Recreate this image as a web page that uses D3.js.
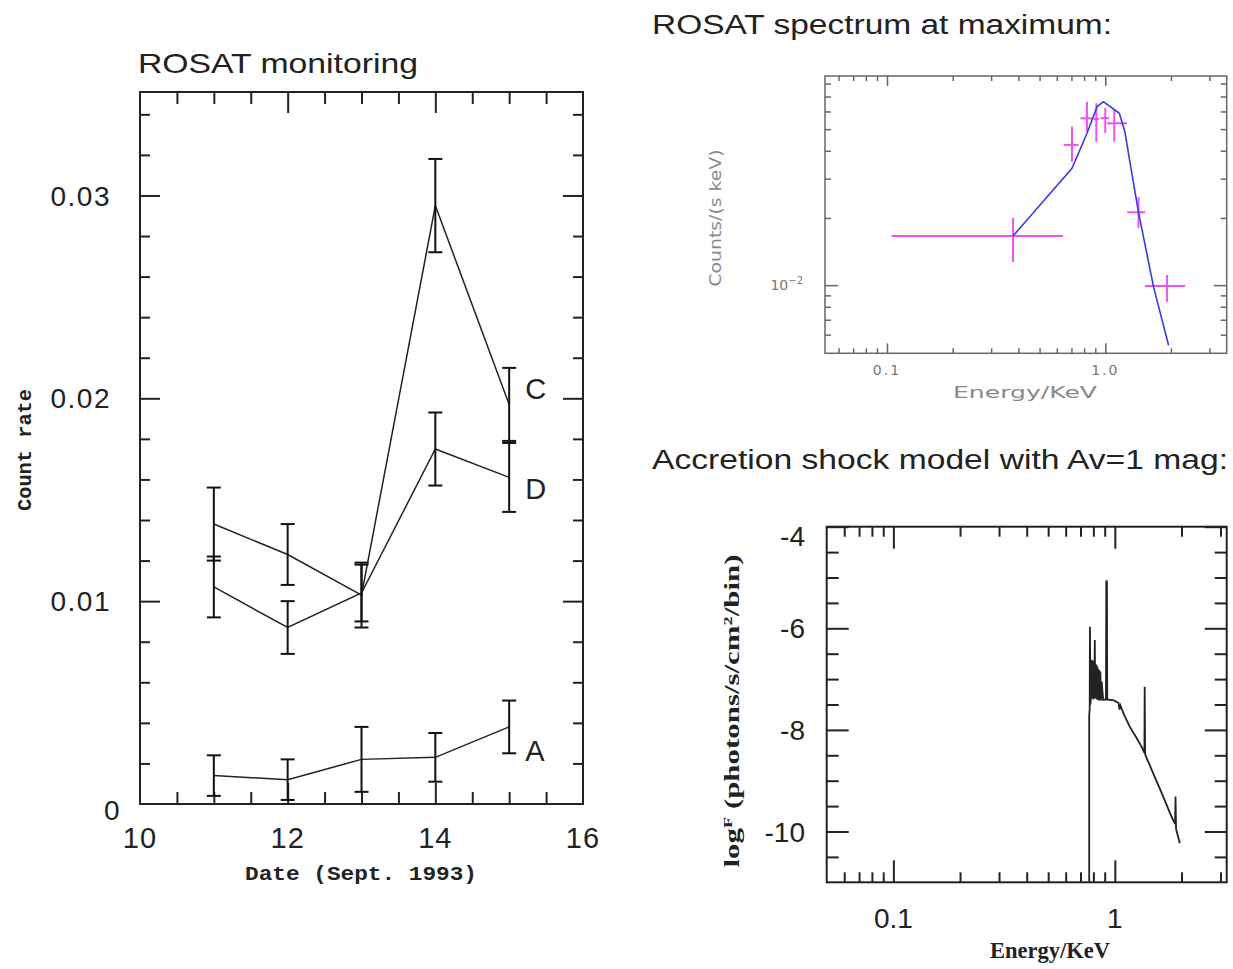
<!DOCTYPE html>
<html>
<head>
<meta charset="utf-8">
<script src="https://cdn.jsdelivr.net/npm/d3@7"></script>
<style>
  body { margin: 0; background: #fff; }
  svg { display: block; }
  .sans { font-family: "Liberation Sans", Arial, sans-serif; }
  .dv { font-family: "DejaVu Sans", sans-serif; }
  .mono { font-family: "Liberation Mono", "DejaVu Sans Mono", monospace; }
  .serif { font-family: "Liberation Serif", "DejaVu Serif", serif; }
</style>
</head>
<body>
<div id="chart"></div>
<script>
// --- ROSAT monitoring, count rate per day (Sept. 1993)
var days = [11, 12, 13, 14, 15];
var rateC = [0.0138, 0.0123, 0.0103, 0.0295, 0.0197];
var errC  = [0.0018, 0.0015, 0.0016, 0.0023, 0.0018];
var rateD = [0.0107, 0.0087, 0.0104, 0.0175, 0.0161];
var errD  = [0.0015, 0.0013, 0.0014, 0.0018, 0.0017];
var rateA = [0.0014, 0.0012, 0.0022, 0.0023, 0.0038];
var errA  = [0.0010, 0.0010, 0.0016, 0.0012, 0.0013];
var seriesNames = ["C", "D", "A"];
var rateTicks = [0, 0.01, 0.02, 0.03];
var rateTickLabels = ["0", "0.01", "0.02", "0.03"];
var dayTicks = [10, 12, 14, 16];

// --- ROSAT spectrum at maximum (counts/(s keV) vs energy)
var specE    = [0.378, 0.704, 0.824, 0.910, 1.00, 1.10, 1.42, 1.92];
var specELo  = [0.105, 0.645, 0.770, 0.885, 0.950, 1.02, 1.26, 1.52];
var specEHi  = [0.640, 0.755, 0.880, 0.935, 1.04, 1.26, 1.52, 2.32];
var specC    = [0.0166, 0.0425, 0.0559, 0.0555, 0.0560, 0.0531, 0.0212, 0.0099];
var specCLo  = [0.0127, 0.0357, 0.0487, 0.0439, 0.0480, 0.0439, 0.0180, 0.0084];
var specCHi  = [0.0200, 0.0513, 0.0664, 0.0653, 0.0621, 0.0614, 0.0248, 0.0111];
var modelE   = [0.378, 0.704, 0.824, 0.918, 0.98, 1.027, 1.16, 1.23, 1.30, 1.42, 1.665, 1.95];
var modelC   = [0.0166, 0.0334, 0.0478, 0.0631, 0.0664, 0.0642, 0.0589, 0.0487, 0.0351, 0.0212, 0.0098, 0.00538];

// --- Accretion shock model, log F vs energy
var shockE = [0.766, 0.766, 0.770, 0.772, 0.776, 0.782, 0.786, 0.789, 0.792, 0.795, 0.798, 0.801,
  0.804, 0.807, 0.810, 0.812, 0.815, 0.818, 0.822, 0.826, 0.830, 0.834, 0.838, 0.842, 0.846,
  0.850, 0.855, 0.860, 0.866, 0.872, 0.886,
  0.912, 0.915, 0.918, 0.921, 0.924, 0.990, 1.040, 1.050, 1.060, 1.100, 1.169, 1.250, 1.320,
  1.360, 1.364, 1.370, 1.489, 1.652, 1.800, 1.870, 1.880, 1.890, 1.965];
var shockLogF = [-11.0, -7.71, -7.60, -5.97, -7.50, -7.30, -6.62, -7.38, -6.70, -7.36, -6.64, -7.40,
  -6.72, -7.38, -6.80, -6.23, -7.35, -6.70, -7.38, -6.72, -7.40, -6.75, -7.40, -6.80, -7.42,
  -6.82, -7.42, -6.85, -7.42, -7.05, -7.41,
  -7.40, -5.06, -7.30, -5.06, -7.40, -7.42, -7.47, -7.60, -7.52, -7.70, -7.94, -8.15, -8.33,
  -8.45, -7.15, -8.48, -8.85, -9.31, -9.70, -9.85, -9.31, -9.95, -10.23];
var logFTicks = [-4, -6, -8, -10];
var energyMajor = [0.1, 1];
var energyMinor = [0.06, 0.07, 0.08, 0.09, 0.2, 0.3, 0.4, 0.5, 0.6, 0.7, 0.8, 0.9, 2, 3];
var countMinor = [0.006, 0.007, 0.008, 0.009, 0.02, 0.03, 0.04, 0.05, 0.06, 0.07, 0.08];

var W = 1233, H = 969;
var svg = d3.select("#chart").append("svg").attr("width", W).attr("height", H);
svg.append("rect").attr("width", W).attr("height", H).attr("fill", "#fff");

function noDomain(g) { g.select(".domain").remove(); }

// inner ticks on all four sides of a frame
function frameTicks(g, xs, ys, xv, yv, xlen, ylen, color, sw) {
  var x0 = xs.range()[0], x1 = xs.range()[1], y0 = ys.range()[0], y1 = ys.range()[1];
  g.append("g").attr("transform", "translate(0," + y0 + ")")
    .call(d3.axisBottom(xs).tickValues(xv).tickSize(-xlen).tickFormat("")).call(noDomain);
  g.append("g").attr("transform", "translate(0," + y1 + ")")
    .call(d3.axisTop(xs).tickValues(xv).tickSize(-xlen).tickFormat("")).call(noDomain);
  g.append("g").attr("transform", "translate(" + x0 + ",0)")
    .call(d3.axisLeft(ys).tickValues(yv).tickSize(-ylen).tickFormat("")).call(noDomain);
  g.append("g").attr("transform", "translate(" + x1 + ",0)")
    .call(d3.axisRight(ys).tickValues(yv).tickSize(-ylen).tickFormat("")).call(noDomain);
  g.selectAll(".tick line").attr("stroke", color).attr("stroke-width", sw);
}

function stretched(sel, len) {
  return sel.attr("textLength", len).attr("lengthAdjust", "spacingAndGlyphs");
}

// ================= left panel =================
var lx = d3.scaleLinear().domain([10, 16]).range([140, 583]);
var ly = d3.scaleLinear().domain([0, 0.0351]).range([804, 92]);
var left = svg.append("g");

var ticksL = left.append("g");
frameTicks(ticksL, lx, ly, d3.range(10.5, 16, 0.5).filter(function(d) { return d % 2 !== 0; }),
  d3.range(0.002, 0.035, 0.002).filter(function(d) { return Math.abs(d * 100 - Math.round(d * 100)) > 1e-6; }),
  12, 10, "#222", 2);
frameTicks(ticksL, lx, ly, [12, 14], [0.01, 0.02, 0.03], 21, 20, "#222", 2);

left.append("rect").attr("x", 140).attr("y", 92).attr("width", 443).attr("height", 712)
  .attr("fill", "none").attr("stroke", "#222").attr("stroke-width", 2);

var line = d3.line().x(function(d) { return lx(d[0]); }).y(function(d) { return ly(d[1]); });
var series = [[rateC, errC], [rateD, errD], [rateA, errA]];
var labelShift = { C: -16, D: 11, A: 24 };

series.forEach(function(s, i) {
  var pts = days.map(function(d, j) { return [d, s[0][j], s[1][j]]; });
  left.append("path").datum(pts).attr("d", line)
    .attr("fill", "none").attr("stroke", "#222").attr("stroke-width", 1.5);
  var eb = left.append("g").attr("stroke", "#111").attr("stroke-width", 2);
  pts.forEach(function(p) {
    var x = lx(p[0]), yt = ly(p[1] + p[2]), yb = ly(p[1] - p[2]);
    eb.append("line").attr("x1", x).attr("x2", x).attr("y1", yt).attr("y2", yb);
    eb.append("line").attr("x1", x - 7).attr("x2", x + 7).attr("y1", yt).attr("y2", yt);
    eb.append("line").attr("x1", x - 7).attr("x2", x + 7).attr("y1", yb).attr("y2", yb);
  });
  var last = pts[pts.length - 1];
  left.append("text").attr("class", "sans")
    .attr("x", lx(last[0]) + 16).attr("y", ly(last[1]) + labelShift[seriesNames[i]])
    .attr("dy", "0.36em").attr("font-size", 29).attr("fill", "#222")
    .text(seriesNames[i]);
});

left.selectAll(".ylab").data(rateTicks).enter().append("text")
  .attr("class", "sans").attr("text-anchor", "end")
  .attr("x", function(d) { return d === 0 ? 121 : 111; })
  .attr("y", function(d) { return ly(d) + (d === 0 ? 6 : 0); })
  .attr("dy", "0.36em").attr("font-size", 28).attr("letter-spacing", 1.5).attr("fill", "#222")
  .text(function(d, i) { return rateTickLabels[i]; });

left.selectAll(".xlab").data(dayTicks).enter().append("text")
  .attr("class", "sans").attr("text-anchor", "middle")
  .attr("x", function(d) { return lx(d); }).attr("y", 838)
  .attr("dy", "0.36em").attr("font-size", 29).attr("letter-spacing", 1).attr("fill", "#222")
  .text(function(d) { return d; });

stretched(left.append("text").attr("class", "mono").attr("font-weight", "bold")
  .attr("x", 361).attr("y", 872).attr("dy", "0.36em").attr("text-anchor", "middle")
  .attr("font-size", 21).attr("fill", "#222"), 232)
  .text("Date (Sept. 1993)");
stretched(left.append("text").attr("class", "mono").attr("font-weight", "bold")
  .attr("transform", "translate(24,450) rotate(-90)").attr("dy", "0.36em")
  .attr("text-anchor", "middle").attr("font-size", 20).attr("fill", "#222"), 122)
  .text("Count rate");
stretched(left.append("text").attr("class", "sans").attr("x", 138).attr("y", 73)
  .attr("font-size", 28).attr("fill", "#222"), 280)
  .text("ROSAT monitoring");

// ================= top right: spectrum =================
var sx = d3.scaleLog().domain([0.052, 3.6]).range([825, 1226.7]);
var sy = d3.scaleLog().domain([0.00495, 0.0865]).range([353.3, 76]);
var spec = svg.append("g");
var ticksS = spec.append("g");
frameTicks(ticksS, sx, sy, energyMinor, countMinor, 5, 6, "#666", 1.5);
frameTicks(ticksS, sx, sy, energyMajor, [0.01], 10, 13, "#666", 1.5);
spec.append("rect").attr("x", 825).attr("y", 76).attr("width", 401.7).attr("height", 277.3)
  .attr("fill", "none").attr("stroke", "#666").attr("stroke-width", 1.5);

var err = spec.append("g").attr("stroke", "#f050f0").attr("stroke-width", 2);
specE.forEach(function(e, i) {
  err.append("line").attr("x1", sx(specELo[i])).attr("x2", sx(specEHi[i]))
    .attr("y1", sy(specC[i])).attr("y2", sy(specC[i]));
  err.append("line").attr("x1", sx(e)).attr("x2", sx(e))
    .attr("y1", sy(specCLo[i])).attr("y2", sy(specCHi[i]));
});
spec.append("path")
  .datum(modelE.map(function(e, i) { return [e, modelC[i]]; }))
  .attr("d", d3.line().x(function(d) { return sx(d[0]); }).y(function(d) { return sy(d[1]); }))
  .attr("fill", "none").attr("stroke", "#3a3ae0").attr("stroke-width", 1.6);

spec.selectAll(".sxl").data([0.1, 1]).enter().append("text")
  .attr("class", "dv").attr("text-anchor", "middle")
  .attr("x", function(d) { return sx(d); }).attr("y", 370).attr("dy", "0.36em")
  .attr("font-size", 14).attr("letter-spacing", 2).attr("fill", "#777")
  .text(function(d) { return d3.format(".1f")(d); });
var tenLab = spec.append("text").attr("class", "dv").attr("text-anchor", "end")
  .attr("x", 803).attr("y", sy(0.01)).attr("dy", "0.36em").attr("font-size", 14).attr("fill", "#777");
tenLab.append("tspan").text("10");
tenLab.append("tspan").attr("dy", -6).attr("font-size", 10).text("\u22122");
stretched(spec.append("text").attr("class", "dv").attr("x", 1025).attr("y", 393).attr("dy", "0.36em")
  .attr("text-anchor", "middle").attr("font-size", 15).attr("fill", "#888"), 144)
  .text("Energy/KeV");
stretched(spec.append("text").attr("class", "dv")
  .attr("transform", "translate(716,218) rotate(-90)").attr("dy", "0.36em")
  .attr("text-anchor", "middle").attr("font-size", 15).attr("fill", "#888"), 137)
  .text("Counts/(s keV)");
stretched(spec.append("text").attr("class", "sans").attr("x", 652).attr("y", 34)
  .attr("font-size", 27).attr("fill", "#222"), 460)
  .text("ROSAT spectrum at maximum:");

// ================= bottom right: accretion shock model =================
var bx = d3.scaleLog().domain([0.05, 3.2]).range([826.7, 1226.7]);
var by = d3.scaleLinear().domain([-11, -4]).range([882.3, 526.7]);
var shock = svg.append("g");
var ticksB = shock.append("g");
frameTicks(ticksB, bx, by, energyMinor, d3.range(-10.5, -4, 0.5).filter(function(d) { return d % 2 !== 0; }),
  10, 12, "#222", 2);
frameTicks(ticksB, bx, by, energyMajor, logFTicks, 22, 22, "#222", 2);
shock.append("rect").attr("x", 826.7).attr("y", 526.7).attr("width", 400).attr("height", 355.6)
  .attr("fill", "none").attr("stroke", "#222").attr("stroke-width", 2);

shock.append("path")
  .datum(shockE.map(function(e, i) { return [e, shockLogF[i]]; }))
  .attr("d", d3.line().x(function(d) { return bx(d[0]); }).y(function(d) { return by(d[1]); }))
  .attr("fill", "none").attr("stroke", "#222").attr("stroke-width", 1.8);

shock.selectAll(".byl").data(logFTicks).enter().append("text")
  .attr("class", "sans").attr("text-anchor", "end").attr("x", 805)
  .attr("y", function(d) { return by(d) + (d === -4 ? 9 : 0); }).attr("dy", "0.36em")
  .attr("font-size", 28).attr("fill", "#222")
  .text(function(d) { return d; });
shock.selectAll(".bxl").data(energyMajor).enter().append("text")
  .attr("class", "sans").attr("text-anchor", "middle")
  .attr("x", function(d) { return bx(d); }).attr("y", 918).attr("dy", "0.36em")
  .attr("font-size", 28).attr("fill", "#222")
  .text(function(d) { return d; });
stretched(shock.append("text").attr("class", "serif").attr("font-weight", "bold")
  .attr("x", 1050).attr("y", 950).attr("dy", "0.36em").attr("text-anchor", "middle")
  .attr("font-size", 23).attr("fill", "#222"), 120)
  .text("Energy/KeV");
var yt = stretched(shock.append("text").attr("class", "serif").attr("font-weight", "bold")
  .attr("transform", "translate(731,711) rotate(-90)").attr("dy", "0.36em")
  .attr("text-anchor", "middle").attr("font-size", 22).attr("fill", "#222"), 313);
yt.append("tspan").text("log");
yt.append("tspan").attr("dy", -7).attr("font-size", 13).text("F");
yt.append("tspan").attr("dy", 7).text(" (photons/s/cm");
yt.append("tspan").attr("dy", -7).attr("font-size", 13).text("2");
yt.append("tspan").attr("dy", 7).text("/bin)");
stretched(shock.append("text").attr("class", "sans").attr("x", 652).attr("y", 469)
  .attr("font-size", 27).attr("fill", "#222"), 576)
  .text("Accretion shock model with Av=1 mag:");
</script>
</body>
</html>
